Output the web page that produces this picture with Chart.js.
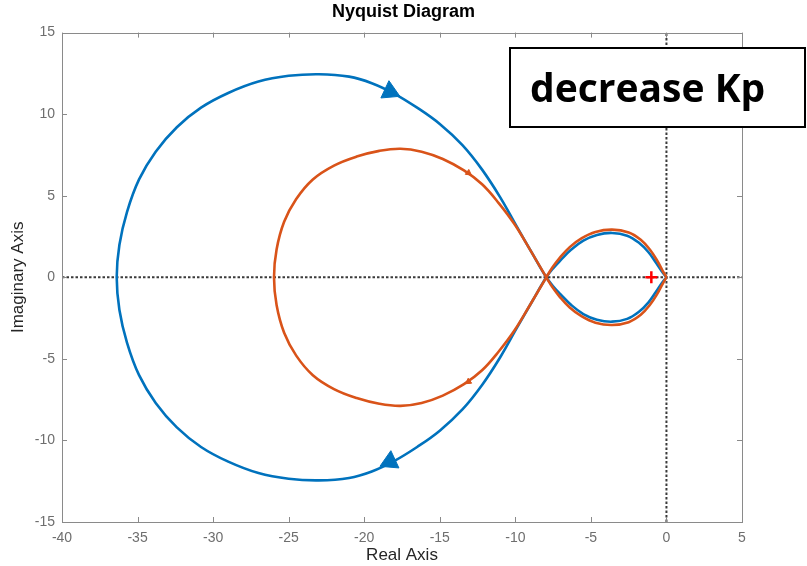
<!DOCTYPE html>
<html>
<head>
<meta charset="utf-8">
<script src="https://cdn.jsdelivr.net/npm/chart.js@4/dist/chart.umd.min.js"></script>
<style>
  html, body { margin: 0; padding: 0; background: #ffffff; }
  #wrap { width: 807px; height: 566px; }
</style>
</head>
<body>
<div id="wrap"><canvas id="c" width="807" height="566"></canvas></div>
<script>
// ---- Data ----
const chartTitle = 'Nyquist Diagram';
const xAxisTitle = 'Real Axis';
const yAxisTitle = 'Imaginary Axis';
const annotationText = 'decrease Kp';

const xTickRange = [-40, 5];
const yTickRange = [-15, 15];
const tickStep = 5;

// Blue curve (higher Kp), traced as one path
const blueRe = [
  0, -0.3, -0.7, -1.2, -1.8, -2.6, -3.6, -4.6, -5.5, -6.3, -7.0, -7.5, -7.95,
  -8.9, -9.9, -11.0, -12.2, -13.5, -15.0, -16.5, -18.0, -19.5, -21.0, -23.0, -25.0, -27.0, -29.0, -30.8, -32.4, -33.8, -34.9, -35.7, -36.2, -36.38,
  -36.2, -35.7, -34.9, -33.8, -32.4, -30.8, -29.0, -27.0, -25.0, -23.0, -21.0, -19.5, -18.0, -16.5, -15.0, -13.5, -12.2, -11.0, -9.9, -8.9, -7.95,
  -7.5, -7.0, -6.3, -5.5, -4.6, -3.6, -2.6, -1.8, -1.2, -0.7, -0.3, 0];
const blueIm = [
  0, 0.35, 0.9, 1.55, 2.1, 2.55, 2.72, 2.6, 2.25, 1.7, 1.05, 0.55, 0,
  -1.5, -3.1, -4.9, -6.6, -8.1, -9.4, -10.4, -11.25, -11.9, -12.3, -12.45, -12.35, -12.0, -11.3, -10.4, -9.2, -7.7, -6.0, -4.0, -2.0, 0,
  2.0, 4.0, 6.0, 7.7, 9.2, 10.4, 11.3, 12.0, 12.35, 12.45, 12.3, 11.9, 11.25, 10.4, 9.4, 8.1, 6.6, 4.9, 3.1, 1.5, 0,
  -0.55, -1.05, -1.7, -2.25, -2.6, -2.72, -2.55, -2.1, -1.55, -0.9, -0.35, 0];

// Orange curve (decreased Kp)
const orangeRe = [
  0, -0.25, -0.6, -1.1, -1.7, -2.5, -3.6, -4.7, -5.6, -6.4, -7.1, -7.55, -7.95,
  -9.0, -10.05, -11.1, -12.2, -13.4, -14.8, -16.2, -17.6, -19.0, -20.5, -22.0, -23.4, -24.5, -25.3, -25.8, -25.97,
  -25.8, -25.3, -24.5, -23.4, -22.0, -20.5, -19.0, -17.6, -16.2, -14.8, -13.4, -12.2, -11.1, -10.05, -9.0, -7.95,
  -7.55, -7.1, -6.4, -5.6, -4.7, -3.6, -2.5, -1.7, -1.1, -0.6, -0.25, 0];
const orangeIm = [
  0, 0.4, 1.0, 1.7, 2.3, 2.75, 2.92, 2.78, 2.4, 1.85, 1.15, 0.6, 0,
  -1.65, -3.25, -4.55, -5.7, -6.55, -7.25, -7.7, -7.88, -7.75, -7.4, -6.85, -6.0, -4.8, -3.4, -1.7, 0,
  1.7, 3.4, 4.8, 6.0, 6.85, 7.4, 7.75, 7.88, 7.7, 7.25, 6.55, 5.7, 4.55, 3.25, 1.65, 0,
  -0.6, -1.15, -1.85, -2.4, -2.78, -2.92, -2.75, -2.3, -1.7, -1.0, -0.4, 0];

// Direction arrows on the curves
const blueArrowRe = [-18.3, -18.3];
const blueArrowIm = [11.38, -11.3];
const blueArrowAngle = [115, 245];
const orangeArrowRe = [-13.1, -13.1];
const orangeArrowIm = [6.4, -6.4];
const orangeArrowAngle = [125, 235];

// Critical point -1 + 0j
const criticalRe = [-1];
const criticalIm = [0];

// Zero axes (dotted)
const realAxisRe = [-40, 5];
const realAxisIm = [0, 0];
const imagAxisRe = [0, 0];
const imagAxisIm = [-15, 15];

const BLUE = '#0072BD';
const ORANGE = '#D95319';
const FONT = '"Liberation Sans", Arial, sans-serif';

function pts(xs, ys) { return xs.map((x, i) => ({ x: x, y: ys[i] })); }

const framePlugin = {
  id: 'frame',
  afterDatasetsDraw(chart) {
    const { ctx, chartArea: a, scales } = chart;
    ctx.save();
    ctx.strokeStyle = '#8a8a8a';
    ctx.lineWidth = 1;
    ctx.strokeRect(Math.round(a.left) + 0.5, Math.round(a.top) + 0.5,
      Math.round(a.right - a.left), Math.round(a.bottom - a.top));
    const L = 5;
    ctx.beginPath();
    scales.x.ticks.forEach(t => {
      const px = Math.round(scales.x.getPixelForValue(t.value)) + 0.5;
      ctx.moveTo(px, a.bottom); ctx.lineTo(px, a.bottom - L);
      ctx.moveTo(px, a.top); ctx.lineTo(px, a.top + L);
    });
    scales.y.ticks.forEach(t => {
      const py = Math.round(scales.y.getPixelForValue(t.value)) + 0.5;
      ctx.moveTo(a.left, py); ctx.lineTo(a.left + L, py);
      ctx.moveTo(a.right, py); ctx.lineTo(a.right - L, py);
    });
    ctx.stroke();
    ctx.restore();
  },
  afterDraw(chart) {
    const ctx = chart.ctx;
    ctx.save();
    const bx = 510, by = 48, bw = 295, bh = 79;
    ctx.fillStyle = '#ffffff';
    ctx.fillRect(bx, by, bw, bh);
    ctx.strokeStyle = '#000000';
    ctx.lineWidth = 2;
    ctx.strokeRect(bx, by, bw, bh);
    ctx.fillStyle = '#000000';
    ctx.font = 'bold 39px "Open Sans", "Liberation Sans", sans-serif';
    ctx.textBaseline = 'alphabetic';
    ctx.textAlign = 'left';
    ctx.fillText(annotationText, 530, 102);
    ctx.restore();
  }
};

const ctx = document.getElementById('c').getContext('2d');
new Chart(ctx, {
  type: 'scatter',
  data: {
    datasets: [
      {
        label: 'critical', data: pts(criticalRe, criticalIm), showLine: false,
        pointStyle: 'cross', pointRadius: 6, borderColor: '#ff0000', backgroundColor: '#ff0000', pointBorderWidth: 2.5
      },
      {
        label: 'orangeArrows', data: pts(orangeArrowRe, orangeArrowIm), showLine: false,
        pointStyle: 'triangle', pointRadius: 3.5, pointRotation: orangeArrowAngle,
        borderColor: ORANGE, backgroundColor: ORANGE, pointBorderWidth: 1
      },
      {
        label: 'blueArrows', data: pts(blueArrowRe, blueArrowIm), showLine: false,
        pointStyle: 'triangle', pointRadius: 11, pointRotation: blueArrowAngle,
        borderColor: BLUE, backgroundColor: BLUE, pointBorderWidth: 1
      },
      {
        label: 'orange', data: pts(orangeRe, orangeIm), showLine: true, pointRadius: 0,
        borderColor: ORANGE, borderWidth: 2.6, tension: 0.4, fill: false
      },
      {
        label: 'blue', data: pts(blueRe, blueIm), showLine: true, pointRadius: 0,
        borderColor: BLUE, borderWidth: 2.6, tension: 0.4, fill: false
      },
      {
        label: 'realAxis', data: pts(realAxisRe, realAxisIm), showLine: true, pointRadius: 0,
        borderColor: '#3a3a3a', borderWidth: 2, borderDash: [2.5, 2], tension: 0
      },
      {
        label: 'imagAxis', data: pts(imagAxisRe, imagAxisIm), showLine: true, pointRadius: 0,
        borderColor: '#3a3a3a', borderWidth: 2, borderDash: [2.5, 2], tension: 0
      }
    ]
  },
  options: {
    responsive: false,
    animation: false,
    events: [],
    layout: { padding: { left: 0, right: 0, top: 0, bottom: 0 } },
    plugins: {
      legend: { display: false },
      tooltip: { enabled: false },
      title: {
        display: true, text: chartTitle, color: '#000000',
        font: { family: FONT, size: 18, weight: 'bold' },
        padding: { top: 1, bottom: 10 }
      }
    },
    scales: {
      x: {
        type: 'linear', min: xTickRange[0], max: xTickRange[1],
        ticks: {
          stepSize: tickStep, color: '#6e6e6e', padding: 8,
          font: { family: FONT, size: 14 }
        },
        grid: { display: false, drawTicks: false },
        border: { display: false },
        title: {
          display: true, text: xAxisTitle, color: '#262626',
          font: { family: FONT, size: 17 },
          padding: { top: 0, bottom: 0 }
        },
        afterFit(scale) { scale.height = 44; }
      },
      y: {
        type: 'linear', min: yTickRange[0], max: yTickRange[1],
        ticks: {
          stepSize: tickStep, color: '#6e6e6e', padding: 7,
          font: { family: FONT, size: 14 }
        },
        grid: { display: false, drawTicks: false },
        border: { display: false },
        title: {
          display: true, text: yAxisTitle, color: '#262626',
          font: { family: FONT, size: 17 },
          padding: { top: 8, bottom: 0 }
        },
        afterFit(scale) { scale.width = 62; }
      },
      yRight: {
        type: 'linear', position: 'right', min: yTickRange[0], max: yTickRange[1],
        ticks: { display: false },
        grid: { display: false, drawTicks: false },
        border: { display: false },
        afterFit(scale) { scale.width = 65; }
      }
    }
  },
  plugins: [framePlugin]
});
</script>
</body>
</html>
